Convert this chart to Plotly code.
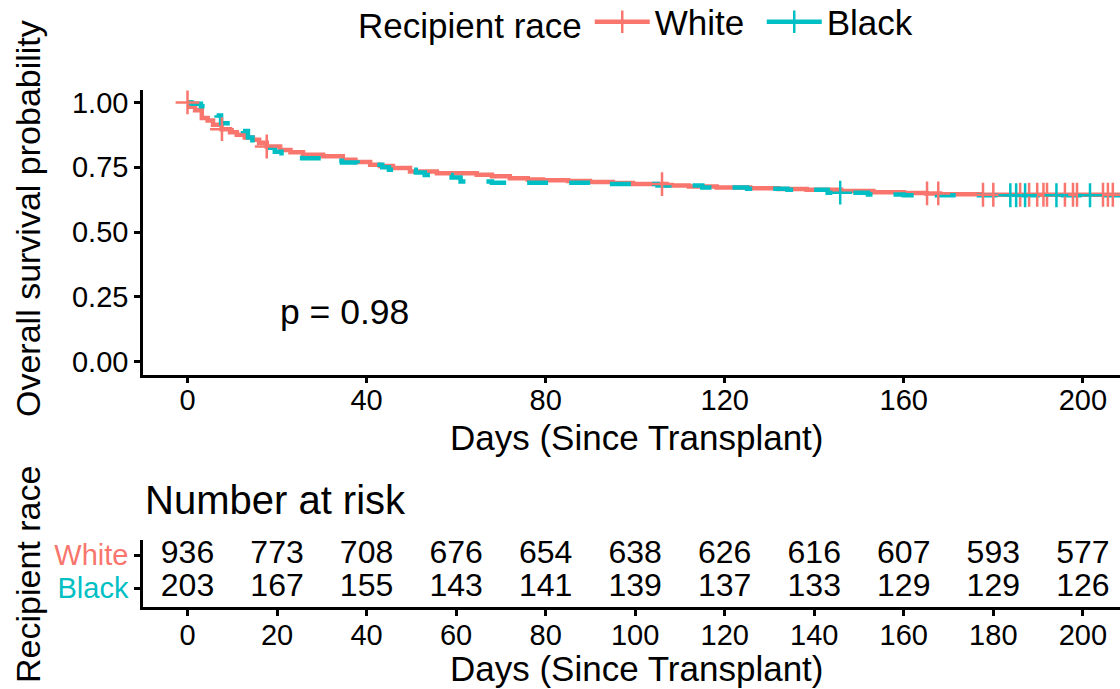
import numpy as np
import plotly.graph_objects as go

# ---------------- data ----------------
group_names = ["White", "Black"]
group_colors = ["#F8766D", "#00BFC4"]

# Kaplan-Meier step curve, White recipients (day, survival after event)
white_t = [0, 0.6, 1.7, 3.2, 4.5, 5.7, 7.6, 9.5, 11.0, 12.8, 14.6, 16.0, 17.7, 20.7,
           23.0, 25.8, 30.3, 34.7, 37.5, 40.8, 43.0, 45.9, 49.7, 55.7, 64.6, 68.0,
           72.0, 76.0, 79.4, 85.0, 89.9, 95.0, 99.5, 107.0, 112.0, 118.2, 125.7,
           132.0, 138.3, 146.0, 153.2, 160.0, 165.0, 168.1, 177.0, 210.0]
white_s = [1.0, 0.983, 0.97, 0.94, 0.93, 0.914, 0.897, 0.885, 0.875, 0.865, 0.856, 0.845,
           0.83, 0.817, 0.808, 0.798, 0.792, 0.779, 0.77, 0.76, 0.755, 0.747, 0.734,
           0.727, 0.721, 0.715, 0.708, 0.703, 0.70, 0.697, 0.693, 0.689, 0.685, 0.68,
           0.676, 0.672, 0.669, 0.666, 0.663, 0.658, 0.654, 0.651, 0.649, 0.646, 0.644,
           0.644]

# Kaplan-Meier step curve, Black recipients
black_t = [0, 1.0, 3.0, 6.5, 7.5, 9.5, 12.4, 13.5, 14.5, 18.4, 19.5, 21.0, 25.6, 30.0,
           34.5, 38.0, 43.5, 45.0, 51.0, 53.0, 59.0, 61.0, 68.0, 92.0, 105.0, 115.0,
           125.0, 134.0, 143.0, 152.0, 160.0, 210.0]
black_s = [1.0, 0.995, 0.985, 0.95, 0.92, 0.91, 0.89, 0.865, 0.845, 0.825, 0.81, 0.795,
           0.785, 0.775, 0.768, 0.76, 0.75, 0.74, 0.73, 0.72, 0.71, 0.695, 0.69, 0.685,
           0.68, 0.672, 0.667, 0.663, 0.652, 0.645, 0.642, 0.642]

# censoring times
white_cens = [0, 7.7, 17.7, 106.0, 165.2, 167.7, 177.7, 180.0, 186.0, 188.0, 189.8,
              191.2, 192.0, 196.0, 197.8, 198.7, 204.5, 205.6, 206.7]
black_cens = [145.8, 183.8, 185.1, 187.1, 194.1, 201.6]

p_value_text = "p = 0.98"

# number at risk table
risk_times = [0, 20, 40, 60, 80, 100, 120, 140, 160, 180, 200]
risk_white = [936, 773, 708, 676, 654, 638, 626, 616, 607, 593, 577]
risk_black = [203, 167, 155, 143, 141, 139, 137, 133, 129, 129, 126]

surv_ticks = [0, 0.25, 0.5, 0.75, 1.0]
surv_ticklabels = ["0.00", "0.25", "0.50", "0.75", "1.00"]
top_xticks = [0, 40, 80, 120, 160, 200]
table_xticks = [0, 20, 40, 60, 80, 100, 120, 140, 160, 180, 200]


def surv_at(times, surv, t):
    idx = np.searchsorted(np.asarray(times), np.asarray(t), side="right") - 1
    return list(np.asarray(surv)[idx])


# ---------------- figure ----------------
W, H = 1120, 689
FONT = "Liberation Sans, Arial, sans-serif"
fig = go.Figure()

curves = [(white_t, white_s, white_cens, "solid"),
          (black_t, black_s, black_cens, "21px,21px")]

for (t, s, cens, dash), name, col in zip(curves, group_names, group_colors):
    fig.add_trace(go.Scatter(x=t, y=s, mode="lines", line=dict(color=col, width=4.5, dash=dash, shape="hv"),
                             showlegend=False, hoverinfo="skip", xaxis="x", yaxis="y"))
for (t, s, cens, dash), name, col in zip(curves, group_names, group_colors):
    fig.add_trace(go.Scatter(x=cens, y=surv_at(t, s, cens), mode="markers",
                             marker=dict(symbol="cross-thin", size=17, line=dict(color=col, width=2.5)),
                             showlegend=False, hoverinfo="skip", xaxis="x", yaxis="y"))
# legend entries
for name, col in zip(group_names, group_colors):
    fig.add_trace(go.Scatter(x=[None], y=[None], mode="lines+markers", name=name,
                             line=dict(color=col, width=4.5),
                             marker=dict(symbol="cross-thin", size=17, line=dict(color=col, width=2.5)),
                             xaxis="x", yaxis="y"))

# risk table
fig.add_trace(go.Scatter(x=risk_times, y=[2] * len(risk_times), mode="text",
                         text=[str(v) for v in risk_white], textfont=dict(size=32, color="black", family=FONT),
                         showlegend=False, hoverinfo="skip", xaxis="x2", yaxis="y2"))
fig.add_trace(go.Scatter(x=risk_times, y=[1] * len(risk_times), mode="text",
                         text=[str(v) for v in risk_black], textfont=dict(size=32, color="black", family=FONT),
                         showlegend=False, hoverinfo="skip", xaxis="x2", yaxis="y2"))

xdom = [143 / W, 1.0]
xr = [-9.94, 208.3]
axis_common = dict(showline=True, linecolor="black", linewidth=2.5, ticks="outside", ticklen=6,
                   tickwidth=2.5, tickcolor="black", showgrid=False, zeroline=False, automargin=False,
                   tickfont=dict(size=29, color="black", family=FONT))

fig.update_layout(
    width=W, height=H,
    margin=dict(l=0, r=0, t=0, b=0, autoexpand=False),
    plot_bgcolor="white", paper_bgcolor="white",
    font=dict(family=FONT, color="black"),
    xaxis=dict(domain=xdom, range=xr, anchor="y", tickvals=top_xticks, ticklabelstandoff=-8,
               **axis_common),
    yaxis=dict(domain=[1 - 374.6 / H, 1 - 89.5 / H], range=[-0.05, 1.05], anchor="x",
               tickvals=surv_ticks, ticktext=surv_ticklabels, **axis_common),
    xaxis2=dict(domain=xdom, range=xr, anchor="y2", tickvals=table_xticks, ticklabelstandoff=-6,
                **axis_common),
    yaxis2=dict(domain=[1 - 607 / H, 1 - 540 / H], range=[0.424, 2.455], anchor="x2",
                tickvals=[2, 1],
                ticktext=[f"<span style='color:{group_colors[0]}'>{group_names[0]}</span>",
                          f"<span style='color:{group_colors[1]}'>{group_names[1]}</span>"],
                **axis_common),
    legend=dict(orientation="h", x=356 / W, xanchor="left", y=1 - 22 / H, yanchor="middle",
                font=dict(size=35, color="black", family=FONT),
                title=dict(text="Recipient race", side="left", font=dict(size=35, color="black", family=FONT)),
                bgcolor="rgba(0,0,0,0)", itemwidth=55, entrywidth=102, entrywidthmode="pixels"),
    showlegend=True,
)

ann = [
    dict(text=p_value_text, x=20.2, y=0.19, xref="x", yref="y", xanchor="left", yanchor="middle",
         showarrow=False, font=dict(size=35.5)),
    dict(text="Overall survival probability", x=28 / W, y=1 - 219 / H, xref="paper", yref="paper",
         xanchor="center", yanchor="middle", textangle=-90, showarrow=False, font=dict(size=34)),
    dict(text="Days (Since Transplant)", x=636 / W, y=1 - 437 / H, xref="paper", yref="paper",
         xanchor="center", yanchor="middle", showarrow=False, font=dict(size=35)),
    dict(text="Number at risk", x=143 / W, y=1 - 500 / H, xref="paper", yref="paper", xanchor="left",
         yanchor="middle", showarrow=False, font=dict(size=40)),
    dict(text="Recipient race", x=28 / W, y=1 - 575 / H, xref="paper", yref="paper",
         xanchor="center", yanchor="middle", textangle=-90, showarrow=False, font=dict(size=34)),
    dict(text="Days (Since Transplant)", x=636 / W, y=1 - 668 / H, xref="paper", yref="paper",
         xanchor="center", yanchor="middle", showarrow=False, font=dict(size=35)),
]
fig.update_layout(annotations=ann)

fig.write_html("out.html", config={"displayModeBar": False},
               post_script="document.body.style.margin='0';document.body.style.padding='0';")
